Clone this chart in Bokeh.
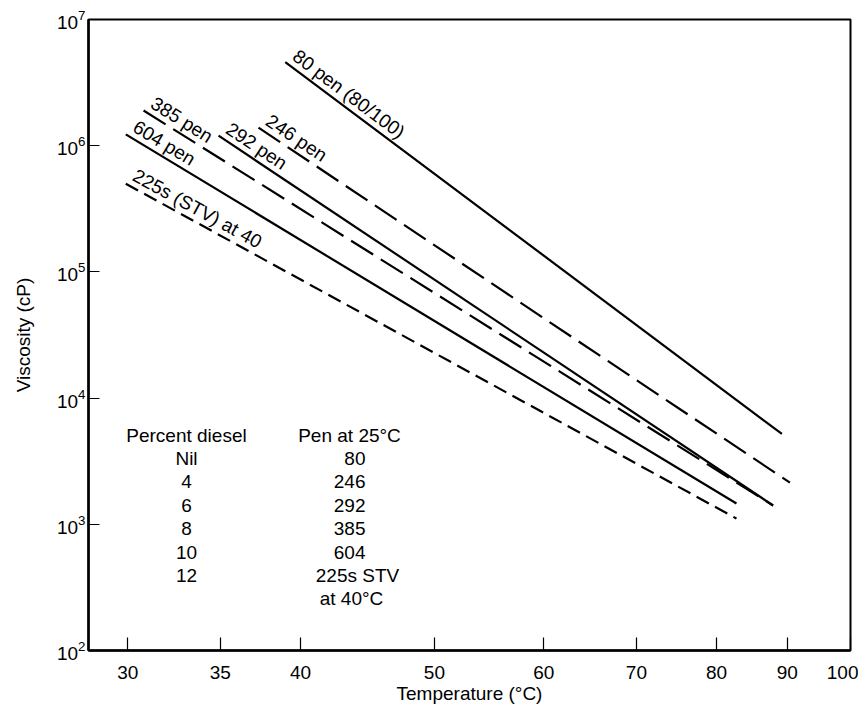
import math
from bokeh.plotting import figure
from bokeh.models import FixedTicker, PrintfTickFormatter, Label, ColumnDataSource
from bokeh.core.properties import value
from bokeh.embed import file_html
from bokeh.resources import INLINE

# ---- data ----
series_names = ["80 pen (80/100)", "246 pen", "292 pen", "385 pen", "604 pen", "225s (STV) at 40"]
t_start = [39.0, 37.3, 34.9, 30.8, 29.9, 29.9]          # deg C
v_start = [4.6e6, 1.39e6, 1.2e6, 1.9e6, 1.23e6, 5.0e5]  # cP
t_end = [89.2, 90.4, 87.9, 87.9, 82.7, 82.7]
v_end = [5.2e3, 2.14e3, 1.41e3, 1.41e3, 1.46e3, 1.11e3]
dashes = ["solid", "26 9", "solid", "26 9", "solid", "14 7"]

x_ticks = [30, 35, 40, 50, 60, 70, 80, 90, 100]
y_ticks = [1e2, 1e3, 1e4, 1e5, 1e6, 1e7]

table_col1 = ["Nil", "4", "6", "8", "10", "12"]
table_col2 = ["80", "246", "292", "385", "604", "225s STV"]

FONT = "Liberation Sans"
X_MIN, X_MAX = 28.1, 100.0
Y_MIN, Y_MAX = 1e2, 1e7
FW, FH = 762, 631

p = figure(x_axis_type="log", y_axis_type="log",
           x_range=(X_MIN, X_MAX), y_range=(Y_MIN, Y_MAX),
           frame_width=FW, frame_height=FH,
           min_border_left=88, min_border_top=19, min_border_right=8, min_border_bottom=40,
           output_backend="svg", toolbar_location=None,
           background_fill_color="white", border_fill_color="white")

p.xgrid.visible = False
p.ygrid.visible = False
p.outline_line_color = "black"
p.outline_line_width = 2

xa = p.xaxis[0]
xa.ticker = FixedTicker(ticks=x_ticks, minor_ticks=[])
xa.formatter = PrintfTickFormatter(format="%d")
xa.axis_label = "Temperature (°C)"
ya = p.yaxis[0]
ya.ticker = FixedTicker(ticks=y_ticks, minor_ticks=[])
ya.axis_label = "Viscosity (cP)"

for ax in (xa, ya):
    ax.axis_line_width = 2.5
    ax.axis_line_color = "black"
    ax.major_tick_out = 0
    ax.major_tick_line_width = 1.2
    ax.major_tick_line_color = "black"
    ax.minor_tick_line_color = None
    ax.major_label_text_font = FONT
    ax.major_label_text_font_size = "19px"
    ax.major_label_text_color = "black"
    ax.axis_label_text_font = FONT
    ax.axis_label_text_font_size = "19px"
    ax.axis_label_text_font_style = "normal"
    ax.axis_label_text_color = "black"
xa.major_tick_in = 13
ya.major_tick_in = 11
xa.major_label_standoff = 15
ya.major_label_standoff = 3
xa.axis_label_standoff = 1
ya.axis_label_standoff = 20

# lines
for i in range(len(series_names)):
    p.line([t_start[i], t_end[i]], [v_start[i], v_end[i]],
           line_color="black", line_width=2.2, line_dash=dashes[i])

# rotated labels sitting just above the start of each line
px_dec = FW / (math.log10(X_MAX) - math.log10(X_MIN))
py_dec = FH / (math.log10(Y_MAX) - math.log10(Y_MIN))
angles, lx, ly = [], [], []
d_up = 12.5    # px perpendicular, above the line
s_along = 3.0  # px along the line
for i in range(len(series_names)):
    dx = (math.log10(t_end[i]) - math.log10(t_start[i])) * px_dec
    dy = (math.log10(v_start[i]) - math.log10(v_end[i])) * py_dec
    th = math.atan2(dy, dx)
    angles.append(-th)
    # screen shift (right, up)
    sx = d_up * math.sin(th) + s_along * math.cos(th)
    su = d_up * math.cos(th) - s_along * math.sin(th)
    lx.append(t_start[i] * 10 ** (sx / px_dec))
    ly.append(v_start[i] * 10 ** (su / py_dec))

src = ColumnDataSource(dict(x=lx, y=ly, text=series_names, angle=angles))
p.text(x="x", y="y", text="text", angle="angle",
       source=src, text_font=value(FONT), text_font_size="19px",
       text_color="black", text_align="left", text_baseline="alphabetic")

# table annotation (frame-relative screen units)
def lab(txt, x, y, align="center"):
    p.add_layout(Label(x=x, y=y, x_units="screen", y_units="screen", text=txt,
                       text_font=FONT, text_font_size="19px", text_color="black",
                       text_align=align, text_baseline="middle"))

lab("Percent diesel", 98, 215)
lab("Pen at 25°C", 261, 215)
row_y = [192, 169, 145, 122, 98, 75]
for i in range(6):
    lab(table_col1[i], 98, row_y[i])
    if i < 5:
        lab(table_col2[i], 277, row_y[i], align="right")
    else:
        lab(table_col2[i], 269, row_y[i])
lab("at 40°C", 263, 52)

open("out.html", "w").write(file_html(p, INLINE))
